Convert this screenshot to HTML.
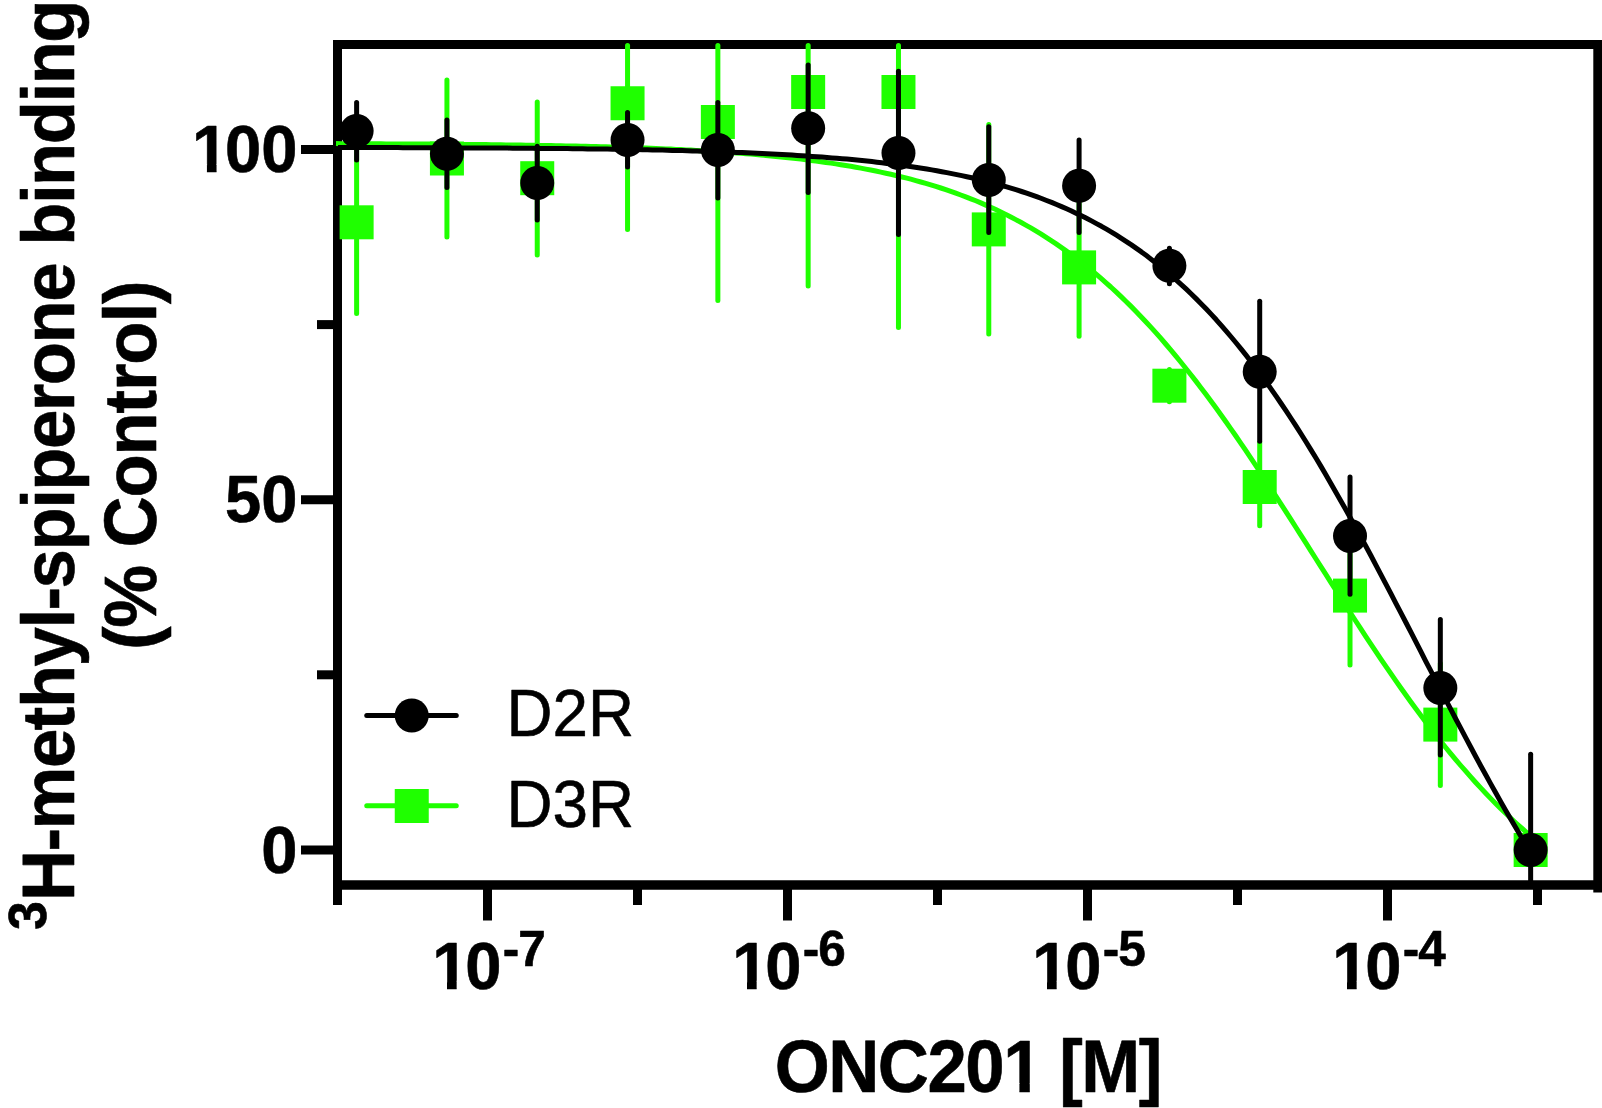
<!DOCTYPE html>
<html lang="en"><head><meta charset="utf-8"><title>ONC201 binding</title>
<style>
html,body{margin:0;padding:0;background:#fff;}
body{width:1602px;height:1108px;overflow:hidden;}
svg{display:block;}
text{font-family:"Liberation Sans",Arial,Helvetica,sans-serif;fill:#000;stroke:#000;stroke-width:0.6px;stroke-linejoin:round;}
.b{font-weight:bold;}
</style></head><body>
<svg width="1602" height="1108" viewBox="0 0 1602 1108">
<rect width="1602" height="1108" fill="#fff"/>

<g stroke="#000" stroke-width="9" fill="none" stroke-linecap="butt">
<path d="M337.5 40 V905"/>
<path d="M333 44.5 H1603"/>
<path d="M1597.8 40 V892.5"/>
<path d="M333 885 H1594" stroke-width="9.5"/>
<path d="M487.50 884 V920.5"/>
<path d="M637.50 884 V905.0"/>
<path d="M787.50 884 V920.5"/>
<path d="M937.50 884 V905.0"/>
<path d="M1087.50 884 V920.5"/>
<path d="M1237.50 884 V905.0"/>
<path d="M1387.50 884 V920.5"/>
<path d="M1537.50 884 V905.0"/>
<path d="M301.0 149.50 H337.5"/>
<path d="M317.0 324.60 H337.5"/>
<path d="M301.0 499.70 H337.5"/>
<path d="M317.0 674.80 H337.5"/>
<path d="M301.0 849.90 H337.5"/>
</g>
<g stroke="#1fff00" stroke-width="5" stroke-linecap="round" fill="none">
<path d="M356.62 130.5 V313.5"/>
<path d="M446.93 80.0 V237.0"/>
<path d="M537.24 102.0 V255.0"/>
<path d="M627.55 45.5 V229.5"/>
<path d="M717.86 45.5 V300.5"/>
<path d="M808.16 45.5 V286.0"/>
<path d="M898.47 45.5 V327.5"/>
<path d="M988.78 124.5 V334.0"/>
<path d="M1079.09 198.5 V336.2"/>
<path d="M1169.40 369.5 V401.8"/>
<path d="M1259.71 442.5 V525.7"/>
<path d="M1350.02 526.5 V665.0"/>
<path d="M1440.33 663.5 V785.5"/>
<path d="M1530.64 842.5 V857.5"/>
</g>
<g fill="#1fff00">
<rect x="339.62" y="205.30" width="34" height="34"/>
<rect x="429.93" y="141.50" width="34" height="34"/>
<rect x="520.24" y="161.20" width="34" height="34"/>
<rect x="610.55" y="86.25" width="34" height="34"/>
<rect x="700.86" y="105.00" width="34" height="34"/>
<rect x="791.16" y="75.00" width="34" height="34"/>
<rect x="881.47" y="75.00" width="34" height="34"/>
<rect x="971.78" y="212.40" width="34" height="34"/>
<rect x="1062.09" y="250.40" width="34" height="34"/>
<rect x="1152.40" y="368.70" width="34" height="34"/>
<rect x="1242.71" y="470.00" width="34" height="34"/>
<rect x="1333.02" y="578.60" width="34" height="34"/>
<rect x="1423.33" y="707.60" width="34" height="34"/>
<rect x="1513.64" y="833.00" width="34" height="34"/>
</g>
<polyline fill="none" stroke="#1fff00" stroke-width="5" stroke-linejoin="round" points="336.0,143.6 341.0,143.7 346.0,143.7 351.0,143.7 356.0,143.7 361.0,143.7 366.0,143.8 371.0,143.8 376.0,143.8 381.0,143.8 386.0,143.9 391.0,143.9 396.0,143.9 401.0,143.9 406.0,144.0 411.0,144.0 416.0,144.0 421.0,144.1 426.0,144.1 431.0,144.1 436.0,144.2 441.0,144.2 446.0,144.3 451.0,144.3 456.0,144.3 461.0,144.4 466.0,144.4 471.0,144.5 476.0,144.5 481.0,144.6 486.0,144.6 491.0,144.7 496.0,144.8 500.9,144.8 505.9,144.9 510.9,144.9 515.9,145.0 520.9,145.1 525.9,145.2 530.9,145.2 535.9,145.3 540.9,145.4 545.9,145.5 550.9,145.6 555.9,145.7 560.9,145.8 565.9,145.9 570.9,146.0 575.9,146.1 580.9,146.2 585.9,146.3 590.9,146.4 595.9,146.6 600.9,146.7 605.9,146.8 610.9,147.0 615.9,147.1 620.9,147.3 625.9,147.4 630.9,147.6 635.9,147.8 640.9,147.9 645.9,148.1 650.9,148.3 655.9,148.5 660.9,148.7 665.9,148.9 670.9,149.1 675.9,149.4 680.9,149.6 685.9,149.9 690.9,150.1 695.9,150.4 700.9,150.7 705.9,151.0 710.9,151.3 715.9,151.6 720.9,151.9 725.9,152.2 730.9,152.6 735.9,152.9 740.9,153.3 745.9,153.7 750.9,154.1 755.9,154.5 760.9,155.0 765.9,155.4 770.9,155.9 775.9,156.4 780.9,156.9 785.9,157.4 790.9,158.0 795.9,158.5 800.9,159.1 805.9,159.7 810.9,160.4 815.9,161.0 820.9,161.7 825.9,162.4 830.8,163.1 835.8,163.9 840.8,164.7 845.8,165.5 850.8,166.3 855.8,167.2 860.8,168.1 865.8,169.1 870.8,170.0 875.8,171.0 880.8,172.1 885.8,173.2 890.8,174.3 895.8,175.5 900.8,176.7 905.8,177.9 910.8,179.2 915.8,180.6 920.8,182.0 925.8,183.4 930.8,184.9 935.8,186.4 940.8,188.0 945.8,189.7 950.8,191.4 955.8,193.2 960.8,195.0 965.8,196.9 970.8,198.8 975.8,200.8 980.8,202.9 985.8,205.1 990.8,207.3 995.8,209.6 1000.8,212.0 1005.8,214.4 1010.8,217.0 1015.8,219.6 1020.8,222.3 1025.8,225.1 1030.8,227.9 1035.8,230.9 1040.8,233.9 1045.8,237.1 1050.8,240.3 1055.8,243.6 1060.8,247.1 1065.8,250.6 1070.8,254.2 1075.8,257.9 1080.8,261.8 1085.8,265.7 1090.8,269.8 1095.8,273.9 1100.8,278.2 1105.8,282.6 1110.8,287.0 1115.8,291.6 1120.8,296.4 1125.8,301.2 1130.8,306.1 1135.8,311.2 1140.8,316.4 1145.8,321.7 1150.8,327.1 1155.8,332.6 1160.7,338.2 1165.7,344.0 1170.7,349.9 1175.7,355.9 1180.7,362.0 1185.7,368.2 1190.7,374.5 1195.7,380.9 1200.7,387.4 1205.7,394.1 1210.7,400.8 1215.7,407.6 1220.7,414.5 1225.7,421.5 1230.7,428.6 1235.7,435.8 1240.7,443.1 1245.7,450.4 1250.7,457.8 1255.7,465.3 1260.7,472.9 1265.7,480.5 1270.7,488.1 1275.7,495.8 1280.7,503.6 1285.7,511.3 1290.7,519.1 1295.7,527.0 1300.7,534.8 1305.7,542.7 1310.7,550.6 1315.7,558.5 1320.7,566.4 1325.7,574.2 1330.7,582.1 1335.7,590.0 1340.7,597.8 1345.7,605.6 1350.7,613.3 1355.7,621.0 1360.7,628.7 1365.7,636.3 1370.7,643.8 1375.7,651.3 1380.7,658.8 1385.7,666.1 1390.7,673.4 1395.7,680.6 1400.7,687.7 1405.7,694.7 1410.7,701.7 1415.7,708.5 1420.7,715.3 1425.7,721.9 1430.7,728.5 1435.7,734.9 1440.7,741.2 1445.7,747.5 1450.7,753.6 1455.7,759.6 1460.7,765.5 1465.7,771.2 1470.7,776.9 1475.7,782.5 1480.7,787.9 1485.7,793.2 1490.6,798.4 1495.6,803.5 1500.6,808.5 1505.6,813.3 1510.6,818.0 1515.6,822.7 1520.6,827.2 1525.6,831.6 1530.6,835.9"/>
<g stroke="#000" stroke-width="5" stroke-linecap="round" fill="none">
<path d="M356.62 102.5 V160.0"/>
<path d="M446.93 120.0 V187.5"/>
<path d="M537.24 146.2 V220.0"/>
<path d="M627.55 112.5 V167.0"/>
<path d="M717.86 102.5 V198.0"/>
<path d="M808.16 65.0 V192.5"/>
<path d="M898.47 71.2 V234.5"/>
<path d="M988.78 126.8 V232.5"/>
<path d="M1079.09 140.0 V232.5"/>
<path d="M1169.40 248.2 V283.8"/>
<path d="M1259.71 301.2 V441.2"/>
<path d="M1350.02 477.1 V594.2"/>
<path d="M1440.33 619.4 V755.0"/>
<path d="M1530.64 754.2 V883.5"/>
</g>
<g fill="#000">
<circle cx="356.62" cy="131.00" r="17"/>
<circle cx="446.93" cy="153.75" r="17"/>
<circle cx="537.24" cy="183.00" r="17"/>
<circle cx="627.55" cy="140.00" r="17"/>
<circle cx="717.86" cy="150.00" r="17"/>
<circle cx="808.16" cy="128.25" r="17"/>
<circle cx="898.47" cy="153.00" r="17"/>
<circle cx="988.78" cy="180.00" r="17"/>
<circle cx="1079.09" cy="185.75" r="17"/>
<circle cx="1169.40" cy="265.75" r="17"/>
<circle cx="1259.71" cy="371.75" r="17"/>
<circle cx="1350.02" cy="536.00" r="17"/>
<circle cx="1440.33" cy="688.00" r="17"/>
<circle cx="1530.64" cy="850.00" r="17"/>
</g>
<polyline fill="none" stroke="#000" stroke-width="5" stroke-linejoin="round" points="338.0,147.5 343.0,147.5 348.0,147.5 353.0,147.5 358.0,147.5 363.0,147.5 367.9,147.6 372.9,147.6 377.9,147.6 382.9,147.6 387.9,147.6 392.9,147.6 397.9,147.6 402.9,147.7 407.9,147.7 412.9,147.7 417.8,147.7 422.8,147.7 427.8,147.7 432.8,147.8 437.8,147.8 442.8,147.8 447.8,147.8 452.8,147.8 457.8,147.9 462.8,147.9 467.7,147.9 472.7,147.9 477.7,148.0 482.7,148.0 487.7,148.0 492.7,148.0 497.7,148.1 502.7,148.1 507.7,148.1 512.7,148.2 517.6,148.2 522.6,148.2 527.6,148.3 532.6,148.3 537.6,148.4 542.6,148.4 547.6,148.5 552.6,148.5 557.6,148.5 562.6,148.6 567.5,148.6 572.5,148.7 577.5,148.8 582.5,148.8 587.5,148.9 592.5,148.9 597.5,149.0 602.5,149.1 607.5,149.1 612.5,149.2 617.4,149.3 622.4,149.4 627.4,149.5 632.4,149.5 637.4,149.6 642.4,149.7 647.4,149.8 652.4,149.9 657.4,150.0 662.4,150.1 667.3,150.3 672.3,150.4 677.3,150.5 682.3,150.6 687.3,150.8 692.3,150.9 697.3,151.0 702.3,151.2 707.3,151.3 712.3,151.5 717.2,151.7 722.2,151.8 727.2,152.0 732.2,152.2 737.2,152.4 742.2,152.6 747.2,152.8 752.2,153.0 757.2,153.2 762.2,153.5 767.1,153.7 772.1,154.0 777.1,154.2 782.1,154.5 787.1,154.8 792.1,155.1 797.1,155.4 802.1,155.7 807.1,156.0 812.1,156.4 817.1,156.7 822.0,157.1 827.0,157.5 832.0,157.9 837.0,158.3 842.0,158.7 847.0,159.1 852.0,159.6 857.0,160.1 862.0,160.6 867.0,161.1 871.9,161.6 876.9,162.2 881.9,162.8 886.9,163.4 891.9,164.0 896.9,164.6 901.9,165.3 906.9,166.0 911.9,166.7 916.9,167.5 921.8,168.2 926.8,169.0 931.8,169.9 936.8,170.8 941.8,171.7 946.8,172.6 951.8,173.6 956.8,174.6 961.8,175.6 966.8,176.7 971.7,177.8 976.7,179.0 981.7,180.2 986.7,181.4 991.7,182.7 996.7,184.1 1001.7,185.5 1006.7,186.9 1011.7,188.4 1016.7,189.9 1021.6,191.5 1026.6,193.2 1031.6,194.9 1036.6,196.7 1041.6,198.5 1046.6,200.5 1051.6,202.4 1056.6,204.5 1061.6,206.6 1066.6,208.8 1071.5,211.0 1076.5,213.4 1081.5,215.8 1086.5,218.3 1091.5,220.9 1096.5,223.6 1101.5,226.3 1106.5,229.2 1111.5,232.1 1116.5,235.2 1121.4,238.3 1126.4,241.6 1131.4,244.9 1136.4,248.4 1141.4,251.9 1146.4,255.6 1151.4,259.4 1156.4,263.3 1161.4,267.3 1166.4,271.4 1171.3,275.7 1176.3,280.1 1181.3,284.6 1186.3,289.2 1191.3,294.0 1196.3,298.9 1201.3,303.9 1206.3,309.1 1211.3,314.4 1216.3,319.8 1221.2,325.4 1226.2,331.1 1231.2,337.0 1236.2,343.0 1241.2,349.1 1246.2,355.4 1251.2,361.9 1256.2,368.5 1261.2,375.2 1266.2,382.0 1271.2,389.1 1276.1,396.2 1281.1,403.5 1286.1,410.9 1291.1,418.5 1296.1,426.2 1301.1,434.0 1306.1,442.0 1311.1,450.1 1316.1,458.3 1321.1,466.6 1326.0,475.1 1331.0,483.7 1336.0,492.4 1341.0,501.2 1346.0,510.0 1351.0,519.0 1356.0,528.1 1361.0,537.3 1366.0,546.5 1371.0,555.8 1375.9,565.2 1380.9,574.6 1385.9,584.1 1390.9,593.7 1395.9,603.3 1400.9,612.9 1405.9,622.5 1410.9,632.2 1415.9,641.9 1420.9,651.6 1425.8,661.3 1430.8,670.9 1435.8,680.6 1440.8,690.2 1445.8,699.9 1450.8,709.4 1455.8,719.0 1460.8,728.4 1465.8,737.9 1470.8,747.2 1475.7,756.5 1480.7,765.7 1485.7,774.8 1490.7,783.9 1495.7,792.8 1500.7,801.7 1505.7,810.5 1510.7,819.1 1515.7,827.6 1520.7,836.0 1525.6,844.3 1530.6,852.5"/>
<path d="M366.75 715.5 H456.25" stroke="#000" stroke-width="5" stroke-linecap="round"/>
<circle cx="411.75" cy="715.5" r="17" fill="#000"/>
<path d="M366.75 805.75 H456.25" stroke="#1fff00" stroke-width="5" stroke-linecap="round"/>
<rect x="394.75" y="789" width="34" height="34" fill="#1fff00"/>
<text transform="translate(506.50 735.75) scale(0.9700 1)" font-size="65.77" text-anchor="start">D2R</text>
<text transform="translate(506.50 826.75) scale(0.9700 1)" font-size="65.77" text-anchor="start">D3R</text>
<clipPath id="c0" clipPathUnits="userSpaceOnUse"><path clip-rule="evenodd" d="M-3000 -3000 H3000 V3000 H-3000 Z M-31.11 -8.11 H-18.59 V4 H-31.11 Z M-8.74 -8.11 H2.94 V4 H-8.74 Z"/></clipPath>
<text class="b" clip-path="url(#c0)" transform="translate(225.07 172.10) scale(0.9760 1)" font-size="66.72" text-anchor="start"><tspan x="-33.81 0 37.11">100</tspan></text>
<text class="b" transform="translate(297.50 522.30) scale(0.9760 1)" font-size="66.72" text-anchor="end">50</text>
<text class="b" transform="translate(297.50 872.50) scale(0.9760 1)" font-size="66.72" text-anchor="end">0</text>
<clipPath id="c1" clipPathUnits="userSpaceOnUse"><path clip-rule="evenodd" d="M-3000 -3000 H3000 V3000 H-3000 Z M-31.16 -8.11 H-18.64 V4 H-31.16 Z M-8.79 -8.11 H2.88 V4 H-8.79 Z"/></clipPath>
<text class="b" clip-path="url(#c1)" transform="translate(465.22 988.90) scale(0.9760 1)" font-size="66.72" text-anchor="start"><tspan x="-33.86 0">10</tspan><tspan x="38.40 54.26" dy="-22.8" font-size="50.73">-7</tspan></text>
<clipPath id="c2" clipPathUnits="userSpaceOnUse"><path clip-rule="evenodd" d="M-3000 -3000 H3000 V3000 H-3000 Z M-31.16 -8.11 H-18.64 V4 H-31.16 Z M-8.79 -8.11 H2.88 V4 H-8.79 Z"/></clipPath>
<text class="b" clip-path="url(#c2)" transform="translate(765.22 988.90) scale(0.9760 1)" font-size="66.72" text-anchor="start"><tspan x="-33.86 0">10</tspan><tspan x="38.40 54.26" dy="-22.8" font-size="50.73">-6</tspan></text>
<clipPath id="c3" clipPathUnits="userSpaceOnUse"><path clip-rule="evenodd" d="M-3000 -3000 H3000 V3000 H-3000 Z M-31.16 -8.11 H-18.64 V4 H-31.16 Z M-8.79 -8.11 H2.88 V4 H-8.79 Z"/></clipPath>
<text class="b" clip-path="url(#c3)" transform="translate(1065.22 988.90) scale(0.9760 1)" font-size="66.72" text-anchor="start"><tspan x="-33.86 0">10</tspan><tspan x="38.40 54.26" dy="-22.8" font-size="50.73">-5</tspan></text>
<clipPath id="c4" clipPathUnits="userSpaceOnUse"><path clip-rule="evenodd" d="M-3000 -3000 H3000 V3000 H-3000 Z M-31.16 -8.11 H-18.64 V4 H-31.16 Z M-8.79 -8.11 H2.88 V4 H-8.79 Z"/></clipPath>
<text class="b" clip-path="url(#c4)" transform="translate(1365.22 988.90) scale(0.9760 1)" font-size="66.72" text-anchor="start"><tspan x="-33.86 0">10</tspan><tspan x="38.40 54.26" dy="-22.8" font-size="50.73">-4</tspan></text>
<clipPath id="c5" clipPathUnits="userSpaceOnUse"><path clip-rule="evenodd" d="M-3000 -3000 H3000 V3000 H-3000 Z M241.71 -8.84 H255.44 V4 H241.71 Z M266.27 -8.84 H279.07 V4 H266.27 Z"/></clipPath>
<text class="b" clip-path="url(#c5)" transform="translate(774.70 1091.90) scale(0.9580 1)" font-size="73.84" letter-spacing="-1.530" text-anchor="start">ONC201 [M]</text>
<text class="b" transform="translate(74.00 901.00) rotate(-90) scale(0.9580 1)" font-size="73.84" letter-spacing="-1.570" text-anchor="start"><tspan x="-30.27" dy="-28.2" font-size="54" letter-spacing="0">3</tspan><tspan x="0" dy="28.2">H-methyl-spiperone binding</tspan></text>
<text class="b" transform="translate(155.90 650.10) rotate(-90) scale(0.9580 1)" font-size="73.84" letter-spacing="-1.200" text-anchor="start">(% Control)</text>
</svg></body></html>
